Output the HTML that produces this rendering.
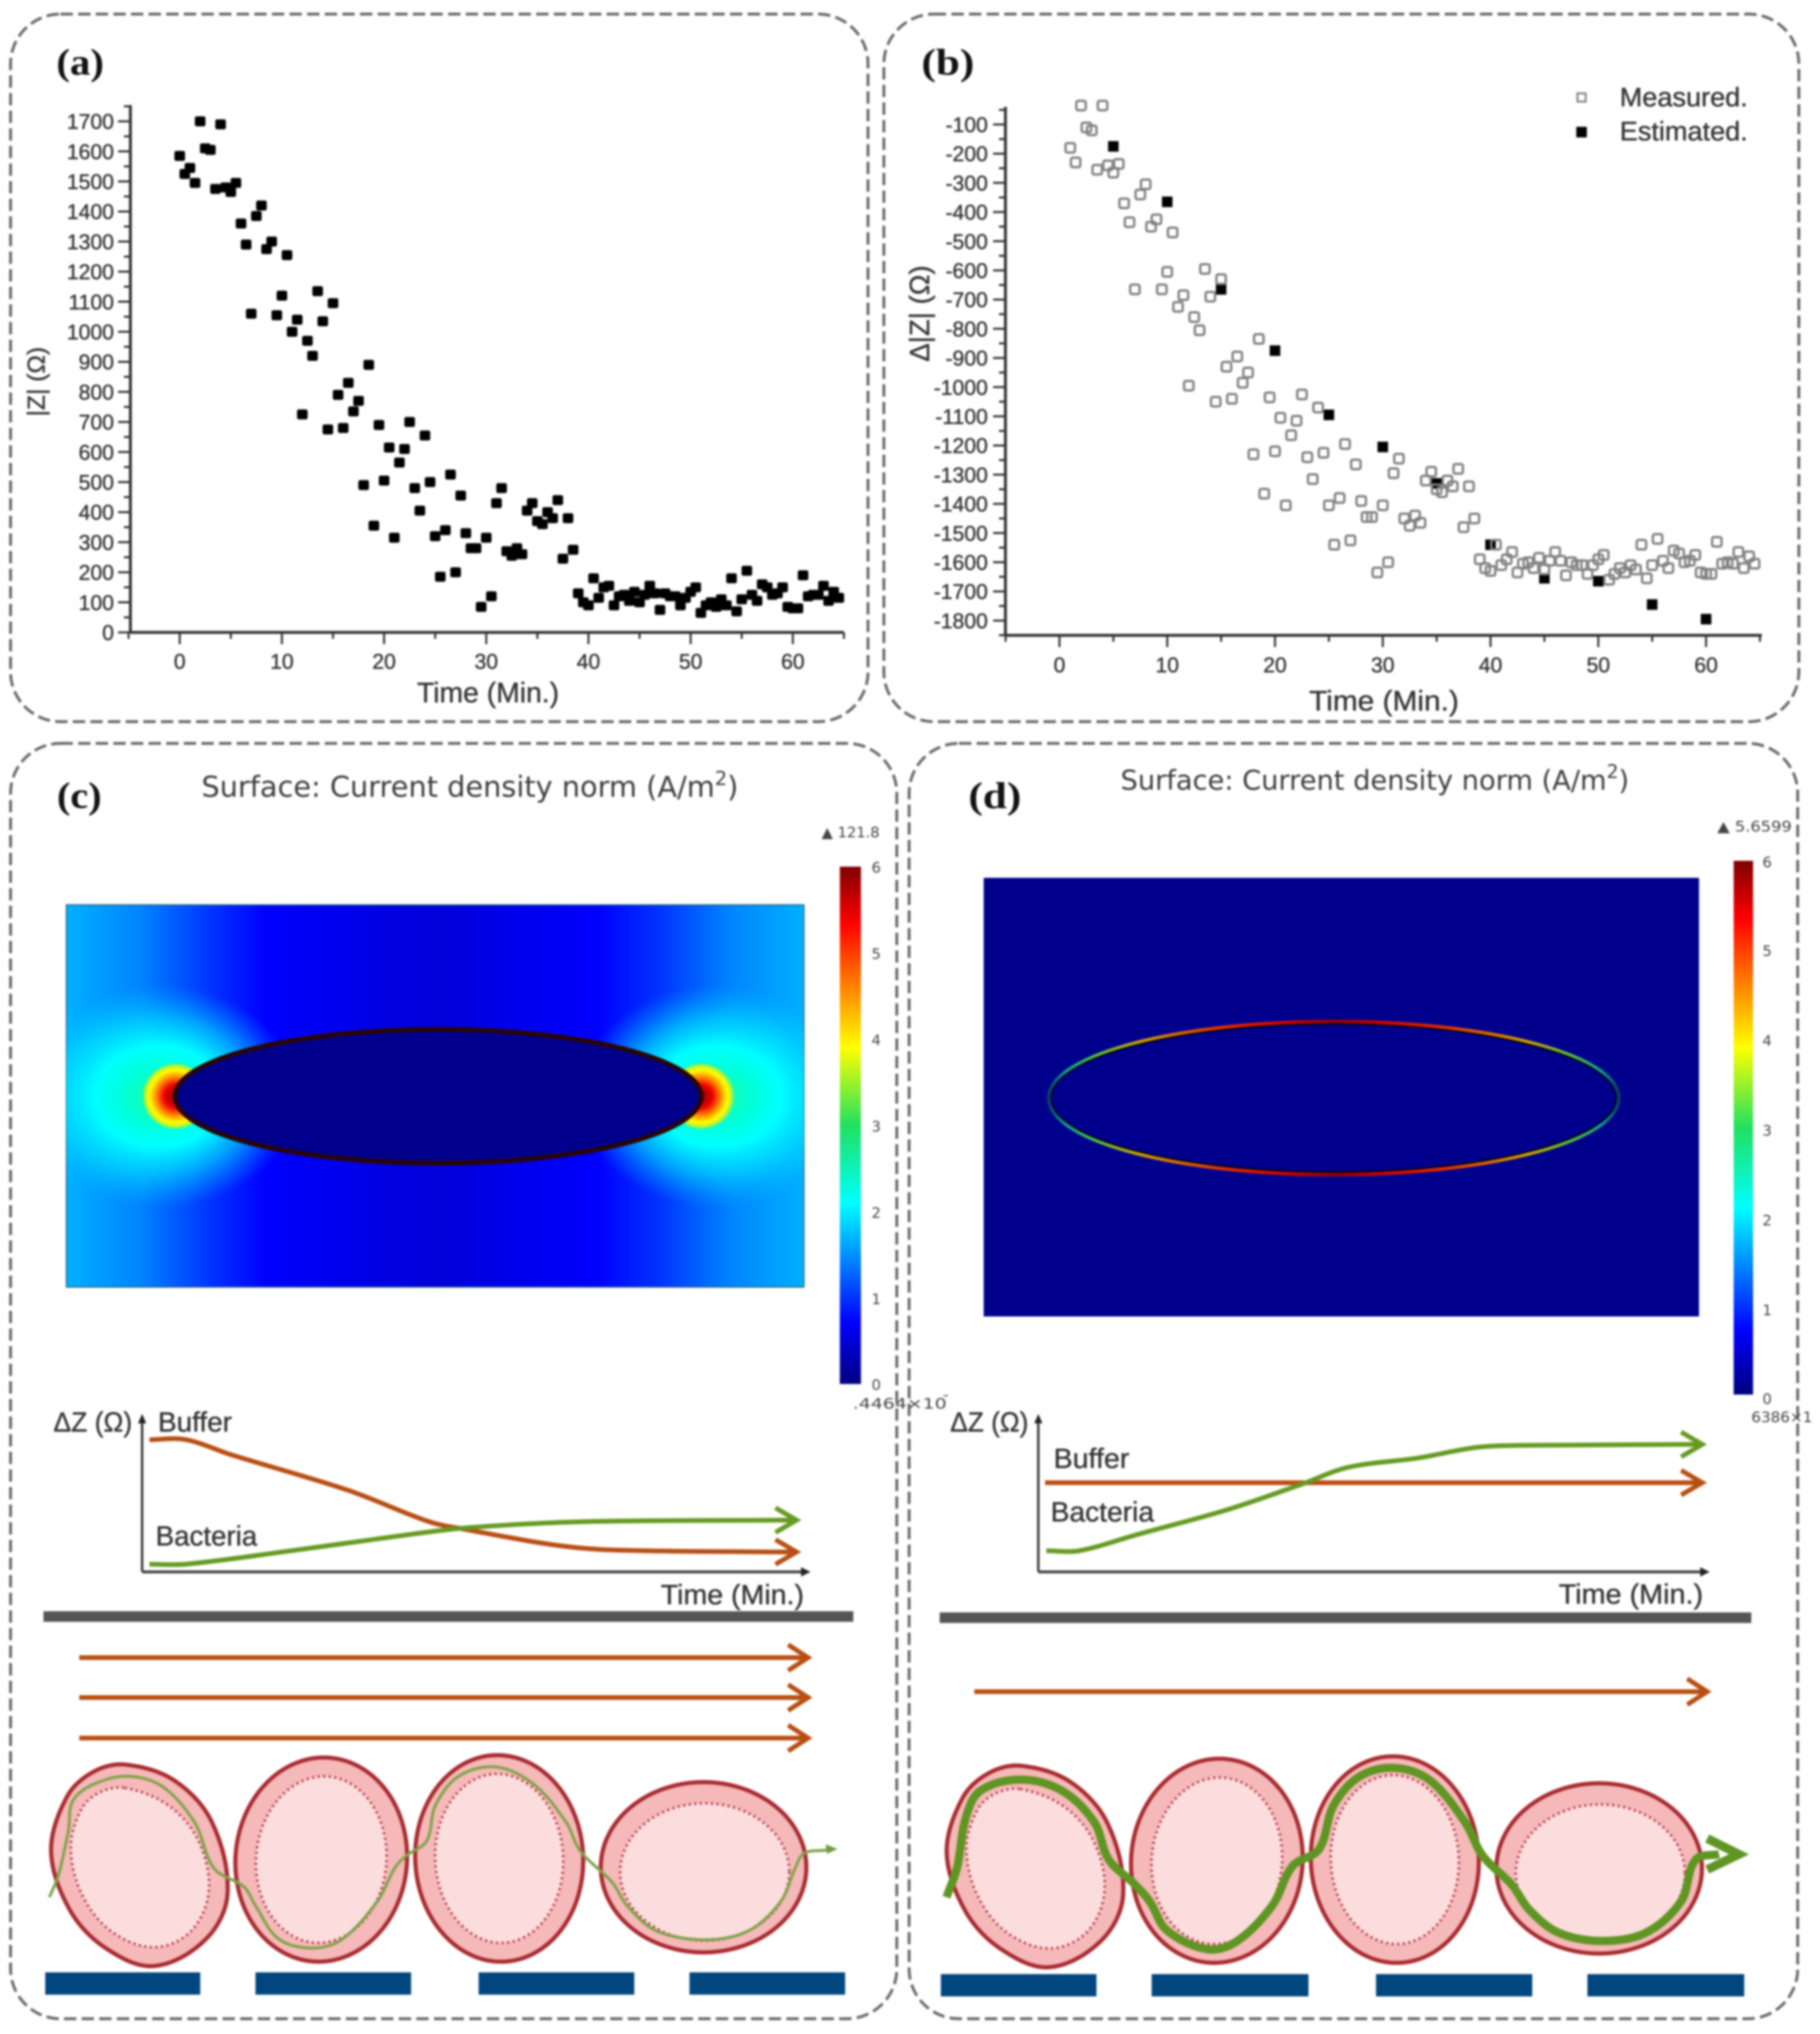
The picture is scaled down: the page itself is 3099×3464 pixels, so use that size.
<!DOCTYPE html>
<html lang="en">
<head>
<meta charset="utf-8">
<title>Impedance measurements and current density simulation</title>
<style>
html,body{margin:0;padding:0;background:#fff;width:3099px;height:3464px;overflow:hidden}
svg{display:block;filter:blur(1.8px)}
text{font-family:"Liberation Sans",sans-serif;fill:#333;stroke:#333;stroke-width:.6}
.dv{font-family:"DejaVu Sans",sans-serif;fill:#3c3c3c;stroke-width:0}
.pl{font-family:"Liberation Serif",serif;font-weight:bold;font-size:64px;fill:#111;stroke-width:0}
.panel{fill:none;stroke:#6c6c6c;stroke-width:5;stroke-dasharray:21 9}
.flow{fill:none;stroke:#b84e12;stroke-width:8}
.cb{font-family:"DejaVu Sans",sans-serif;font-size:25px;fill:#444;stroke-width:0}
</style>
</head>
<body>
<svg id="figure" xmlns="http://www.w3.org/2000/svg" width="3099" height="3464" viewBox="0 0 3099 3464">
<defs>
<linearGradient id="jet" x1="0" y1="1" x2="0" y2="0">
<stop offset="0" stop-color="#00007f"/><stop offset=".12" stop-color="#0000ff"/><stop offset=".35" stop-color="#00ffff"/><stop offset=".5" stop-color="#20e060"/><stop offset=".65" stop-color="#ffff00"/><stop offset=".89" stop-color="#ff0000"/><stop offset="1" stop-color="#7f0000"/>
</linearGradient>
<linearGradient id="field-base" x1="0" y1="0" x2="1" y2="0">
<stop offset="0" stop-color="#00b0ff"/><stop offset=".1" stop-color="#0084ff"/><stop offset=".2" stop-color="#0030ff"/><stop offset=".27" stop-color="#0000ff"/><stop offset=".5" stop-color="#0000d8"/><stop offset=".72" stop-color="#0000ff"/><stop offset=".8" stop-color="#0030ff"/><stop offset=".9" stop-color="#0084ff"/><stop offset="1" stop-color="#00b0ff"/>
</linearGradient>
<radialGradient id="lobe">
<stop offset="0" stop-color="#20ffa0"/><stop offset=".25" stop-color="#00ffd8"/><stop offset=".45" stop-color="#00ffff"/><stop offset=".7" stop-color="#00e8ff" stop-opacity=".6"/><stop offset="1" stop-color="#00c0ff" stop-opacity="0"/>
</radialGradient>
<radialGradient id="hot-l" gradientUnits="userSpaceOnUse" cx="299" cy="1867" r="56">
<stop offset="0" stop-color="#800000"/><stop offset=".35" stop-color="#f00000"/><stop offset=".6" stop-color="#ff9000"/><stop offset=".8" stop-color="#ffff00"/><stop offset=".96" stop-color="#a0f040"/><stop offset="1" stop-color="#80f060" stop-opacity="0"/>
</radialGradient>
<radialGradient id="hot-r" gradientUnits="userSpaceOnUse" cx="1194" cy="1867" r="56">
<stop offset="0" stop-color="#800000"/><stop offset=".35" stop-color="#f00000"/><stop offset=".6" stop-color="#ff9000"/><stop offset=".8" stop-color="#ffff00"/><stop offset=".96" stop-color="#a0f040"/><stop offset="1" stop-color="#80f060" stop-opacity="0"/>
</radialGradient>
<linearGradient id="rim" gradientUnits="userSpaceOnUse" x1="1786" y1="0" x2="2756" y2="0">
<stop offset="0" stop-color="#0a3a70"/><stop offset=".03" stop-color="#10a090"/><stop offset=".08" stop-color="#50c040"/><stop offset=".16" stop-color="#d0a000"/><stop offset=".3" stop-color="#e03000"/><stop offset=".42" stop-color="#d00000"/><stop offset=".5" stop-color="#900000"/><stop offset=".58" stop-color="#d00000"/><stop offset=".7" stop-color="#e03000"/><stop offset=".84" stop-color="#d0a000"/><stop offset=".92" stop-color="#50c040"/><stop offset=".97" stop-color="#10a090"/><stop offset="1" stop-color="#0a3a70"/>
</linearGradient>
<clipPath id="field-clip"><rect x="113" y="1541" width="1256" height="651"/></clipPath>
<clipPath id="plot-b-clip"><rect x="1700" y="167" width="1340" height="930"/></clipPath>
<g id="cell-set">
  <path id="cell-one-outer" fill="#f5b9b9" stroke="#a92b30" stroke-width="7"/>
  <path id="cell-one-inner" fill="#fbdddd" stroke="#b8384a" stroke-width="4.5" stroke-dasharray="3.5 6"/>
  <g transform="rotate(5 547 3167)">
    <ellipse cx="547" cy="3167" rx="146" ry="174" fill="#f5b9b9" stroke="#a92b30" stroke-width="7"/>
    <ellipse cx="547" cy="3167" rx="111" ry="142" fill="#fbdddd" stroke="#b8384a" stroke-width="4.5" stroke-dasharray="3.5 6"/>
  </g>
  <g transform="rotate(-3 850 3165)">
    <ellipse cx="850" cy="3165" rx="143" ry="176" fill="#f5b9b9" stroke="#a92b30" stroke-width="7"/>
    <ellipse cx="850" cy="3165" rx="109" ry="144" fill="#fbdddd" stroke="#b8384a" stroke-width="4.5" stroke-dasharray="3.5 6"/>
  </g>
  <ellipse cx="1198" cy="3180" rx="175" ry="145" fill="#f5b9b9" stroke="#a92b30" stroke-width="7"/>
  <ellipse cx="1200" cy="3188" rx="144" ry="117" fill="#fbdddd" stroke="#b8384a" stroke-width="4.5" stroke-dasharray="3.5 6"/>
</g>
</defs>

<rect width="3099" height="3464" fill="#fff"/>

<!-- panel frames -->
<rect class="panel" x="18" y="24" width="1460" height="1205" rx="85"/>
<rect class="panel" x="1505" y="24" width="1558" height="1205" rx="85"/>
<rect class="panel" x="18" y="1266" width="1509" height="2172" rx="85"/>
<rect class="panel" x="1548" y="1266" width="1513" height="2172" rx="85"/>

<text class="pl" x="96" y="127" textLength="81" lengthAdjust="spacingAndGlyphs">(a)</text>
<text class="pl" x="1569" y="127" textLength="90" lengthAdjust="spacingAndGlyphs">(b)</text>
<text class="pl" x="97" y="1376" textLength="76" lengthAdjust="spacingAndGlyphs">(c)</text>
<text class="pl" x="1649" y="1376" textLength="90" lengthAdjust="spacingAndGlyphs">(d)</text>

<!-- scatter chart containers -->
<g id="plot-a"></g>
<g id="plot-b"></g>

<text x="710" y="1196" font-size="48" textLength="242" lengthAdjust="spacingAndGlyphs">Time (Min.)</text>
<text transform="translate(76 650) rotate(-90)" text-anchor="middle" font-size="42">|Z| (Ω)</text>
<text x="2229" y="1210" font-size="48" textLength="255" lengthAdjust="spacingAndGlyphs">Time (Min.)</text>
<text transform="translate(1582 534) rotate(-90)" text-anchor="middle" font-size="47">Δ|Z| (Ω)</text>

<g>
  <rect x="2686" y="159" width="14" height="14" fill="none" stroke="#888" stroke-width="3.5"/>
  <text x="2758" y="181" font-size="45" textLength="218" lengthAdjust="spacingAndGlyphs">Measured.</text>
  <rect x="2684" y="216" width="18" height="18" fill="#000"/>
  <text x="2758" y="239" font-size="45" textLength="218" lengthAdjust="spacingAndGlyphs">Estimated.</text>
</g>

<!-- panel c simulation -->
<text class="dv" x="343" y="1357" font-size="49">Surface: Current density norm (A/m<tspan font-size="33" dy="-20">2</tspan><tspan dy="20">)</tspan></text>
<g>
  <rect x="113" y="1541" width="1256" height="651" fill="url(#field-base)" stroke="#2a6a80" stroke-width="2"/>
  <g clip-path="url(#field-clip)">
    <ellipse cx="270" cy="1867" rx="240" ry="190" fill="url(#lobe)"/>
    <ellipse cx="1222" cy="1867" rx="240" ry="190" fill="url(#lobe)"/>
    <circle cx="299" cy="1867" r="56" fill="url(#hot-l)"/>
    <circle cx="1194" cy="1867" r="56" fill="url(#hot-r)"/>
  </g>
  <ellipse cx="746" cy="1867" rx="448" ry="114" fill="#00008c" stroke="#2a0505" stroke-width="8"/>
</g>
<rect x="1430" y="1476" width="36" height="881" fill="url(#jet)"/>
<g>
  <text class="cb" x="1484" y="1486">6</text>
  <text class="cb" x="1484" y="1633">5</text>
  <text class="cb" x="1484" y="1780">4</text>
  <text class="cb" x="1484" y="1927">3</text>
  <text class="cb" x="1484" y="2074">2</text>
  <text class="cb" x="1484" y="2221">1</text>
  <text class="cb" x="1484" y="2367">0</text>
  <text class="cb" x="1399" y="1426">▲ 121.8</text>
  <text class="cb" x="1452" y="2399" textLength="160" lengthAdjust="spacingAndGlyphs">.4464×10</text>
  <text class="cb" x="1606" y="2384" font-size="16">-</text>
</g>

<!-- panel d simulation -->
<text class="dv" x="1908" y="1345" font-size="46.4">Surface: Current density norm (A/m<tspan font-size="32" dy="-20">2</tspan><tspan dy="20">)</tspan></text>
<g>
  <rect x="1675" y="1495" width="1218" height="747" fill="#00008c"/>
  <ellipse cx="2271" cy="1870" rx="485" ry="130" fill="none" stroke="url(#rim)" stroke-width="7"/>
  <ellipse cx="2271" cy="1870" rx="481" ry="126" fill="none" stroke="#000020" stroke-width="3"/>
</g>
<rect x="2952" y="1466" width="33" height="909" fill="url(#jet)"/>
<g>
  <text class="cb" x="3001" y="1477">6</text>
  <text class="cb" x="3001" y="1628">5</text>
  <text class="cb" x="3001" y="1781">4</text>
  <text class="cb" x="3001" y="1934">3</text>
  <text class="cb" x="3001" y="2087">2</text>
  <text class="cb" x="3001" y="2240">1</text>
  <text class="cb" x="3001" y="2391">0</text>
  <text class="cb" x="2924" y="1416" textLength="127" lengthAdjust="spacingAndGlyphs">▲ 5.6599</text>
  <text class="cb" x="2982" y="2422" textLength="104" lengthAdjust="spacingAndGlyphs">6386×1</text>
</g>

<!-- schematic charts -->
<g>
  <line x1="242" y1="2677" x2="242" y2="2418" stroke="#333" stroke-width="4"/>
  <polygon points="242,2408 235,2424 249,2424" fill="#222"/>
  <line x1="242" y1="2677" x2="1368" y2="2677" stroke="#444" stroke-width="5"/>
  <polygon points="1380,2677 1364,2669 1364,2685" fill="#222"/>
  <text x="91" y="2438" font-size="47" textLength="134" lengthAdjust="spacingAndGlyphs">ΔZ (Ω)</text>
  <text x="269" y="2438" font-size="47" textLength="126" lengthAdjust="spacingAndGlyphs">Buffer</text>
  <text x="265" y="2632" font-size="47" textLength="173" lengthAdjust="spacingAndGlyphs">Bacteria</text>
  <text x="1125" y="2732" font-size="47" textLength="244" lengthAdjust="spacingAndGlyphs">Time (Min.)</text>
</g>
<g>
  <line x1="1768" y1="2677" x2="1768" y2="2418" stroke="#333" stroke-width="4"/>
  <polygon points="1768,2408 1761,2424 1775,2424" fill="#222"/>
  <line x1="1768" y1="2677" x2="2899" y2="2677" stroke="#444" stroke-width="5"/>
  <polygon points="2911,2677 2895,2669 2895,2685" fill="#222"/>
  <text x="1618" y="2438" font-size="47" textLength="133" lengthAdjust="spacingAndGlyphs">ΔZ (Ω)</text>
  <text x="1794" y="2500" font-size="47" textLength="129" lengthAdjust="spacingAndGlyphs">Buffer</text>
  <text x="1789" y="2591" font-size="47" textLength="176" lengthAdjust="spacingAndGlyphs">Bacteria</text>
  <text x="2654" y="2731" font-size="47" textLength="246" lengthAdjust="spacingAndGlyphs">Time (Min.)</text>
</g>
<g id="schematic-curves"></g>

<!-- substrate bars -->
<rect x="74" y="2744" width="1379" height="18" fill="#555"/>
<rect x="1600" y="2746" width="1382" height="18" fill="#555"/>

<!-- flow arrows -->
<g>
  <path class="flow" d="M135 2823H1374M1342 2801L1376 2823L1342 2845"/>
  <path class="flow" d="M135 2891H1374M1342 2869L1376 2891L1342 2913"/>
  <path class="flow" d="M135 2960H1374M1342 2938L1376 2960L1342 2982"/>
</g>
<path class="flow" d="M1659 2881H2905M2873 2859L2907 2881L2873 2903"/>

<!-- cells -->
<use href="#cell-set"/>
<use href="#cell-set" x="1525" y="2"/>
<path id="path-c" fill="none" stroke="#7fa34a" stroke-width="5"/>
<polygon points="1426,3149 1406,3141 1408,3157" fill="#6f9a3c"/>
<path id="path-d" fill="none" stroke="#5f9522" stroke-width="14"/>
<path d="M2907 3131L2961 3158L2907 3184" fill="none" stroke="#5f9522" stroke-width="15"/>

<!-- lower electrodes -->
<g fill="#02467f">
  <rect x="77" y="3359" width="264" height="38"/>
  <rect x="435" y="3359" width="265" height="38"/>
  <rect x="815" y="3359" width="265" height="38"/>
  <rect x="1174" y="3359" width="265" height="38"/>
</g>
<g fill="#02467f">
  <rect x="1602" y="3362" width="265" height="38"/>
  <rect x="1961" y="3362" width="267" height="38"/>
  <rect x="2343" y="3362" width="266" height="38"/>
  <rect x="2703" y="3362" width="267" height="38"/>
</g>
</svg>

<script>
// ---- chart data ----
const sampleTimes = [
0,0.5,1,1.5,2,2.5,3,3.5,4,4.5,
5,5.5,6,6.5,7,7.5,8,8.5,9,9.5,
10,10.5,11,11.5,12,12.5,13,13.5,14,14.5,
15,15.5,16,16.5,17,17.5,18,18.5,19,19.5,
20,20.5,21,21.5,22,22.5,23,23.5,24,24.5,
25,25.5,26,26.5,27,27.5,28,28.5,29,29.5,
30,30.5,31,31.5,32,32.5,33,33.5,34,34.5,
35,35.5,36,36.5,37,37.5,38,38.5,39,39.5,
40,40.5,41,41.5,42,42.5,43,43.5,44,44.5,
45,45.5,46,46.5,47,47.5,48,48.5,49,49.5,
50,50.5,51,51.5,52,52.5,53,53.5,54,54.5,
55,55.5,56,56.5,57,57.5,58,58.5,59,59.5,
60,60.5,61,61.5,62,62.5,63,63.5,64,64.5];
const impedanceValues = [
1585,1525,1545,1495,1700,1610,1605,1475,1690,1480,
1465,1495,1360,1290,1060,1385,1420,1275,1300,1055,
1120,1255,1000,1040,725,970,920,1135,1035,675,
1095,790,680,830,735,770,490,890,355,690,
505,615,315,565,610,700,480,405,655,500,
320,185,340,525,200,455,330,280,280,85,
315,120,430,480,270,255,280,260,405,430,
370,360,400,380,440,245,380,275,130,100,
90,180,115,150,155,90,120,125,105,135,
100,125,155,130,75,130,120,120,90,115,
135,150,65,90,100,85,110,90,180,70,
110,205,125,105,160,150,125,130,150,85,
80,80,190,120,125,125,155,105,135,115];
const measuredTimes = sampleTimes.slice(2);
const measuredValues = [
-180,-230,-35,-110,-120,-255,-35,-240,
-265,-235,-370,-435,-665,-340,-305,-450,-425,-665,
-605,-470,-725,-685,-995,-760,-805,-595,-690,-1050,
-630,-930,-1040,-895,-985,-950,-1230,-835,-1365,-1035,
-1220,-1105,-1405,-1165,-1115,-1025,-1240,-1315,-1070,-1225,
-1405,-1540,-1380,-1195,-1525,-1265,-1390,-1445,-1445,-1635,
-1405,-1600,-1295,-1245,-1450,-1475,-1440,-1465,-1320,-1290,
-1350,-1360,-1320,-1340,-1280,-1480,-1340,-1450,-1590,-1620,
-1630,-1540,-1610,-1590,-1565,-1635,-1605,-1600,-1620,-1585,
-1625,-1595,-1565,-1595,-1645,-1600,-1610,-1610,-1640,-1610,
-1590,-1575,-1660,-1640,-1620,-1635,-1610,-1625,-1540,-1655,
-1610,-1520,-1595,-1620,-1560,-1570,-1600,-1595,-1575,-1635,
-1640,-1640,-1530,-1605,-1600,-1605,-1565,-1620,-1580,-1605];
const estimatedTimes = [5,10,15,20,25,30,35,40,45,50,55,60];
const estimatedValues = [-175,-365,-665,-875,-1095,-1205,-1330,-1540,-1655,-1665,-1745,-1795];
const xTickValues = [-5,0,5,10,15,20,25,30,35,40,45,50,55,60,65];
const xTickLabels = ['', '0', '', '10', '', '20', '', '30', '', '40', '', '50', '', '60', ''];
const yTicksA = [0,50,100,150,200,250,300,350,400,450,500,550,600,650,700,750,800,850,900,950,1000,1050,1100,1150,1200,1250,1300,1350,1400,1450,1500,1550,1600,1650,1700,1750];
const yTicksB = [-50,-100,-150,-200,-250,-300,-350,-400,-450,-500,-550,-600,-650,-700,-750,-800,-850,-900,-950,-1000,-1050,-1100,-1150,-1200,-1250,-1300,-1350,-1400,-1450,-1500,-1550,-1600,-1650,-1700,-1750,-1800,-1850];

// schematic curves: time (% of axis) against relative impedance (% of axis)
const schemTimesBufferC = [1.1,6.5,13.5,30.9,43,48.3,62.2,70.9,95.2];
const schemBufferC = [84.3,84.4,74.5,52,32,27.2,16.9,13.9,12.7];
const schemTimesBacteriaC = [1.1,6.5,22.2,39.6,48.3,65.7,95.2];
const schemBacteriaC = [4.9,4.9,13.4,23.6,28,32,33];
const schemTimesBufferD = [1,96.2];
const schemBufferD = [56.9,56.9];
const schemTimesBacteriaD = [1.2,6.1,14.9,27.9,39.2,46.2,56.7,65.3,72.3,96.2];
const schemBacteriaD = [13.5,13.5,24,39.3,55.8,66.7,72.7,79.4,80.7,81.3];

// ---- axis functions ----
const xA = t => 306 + 17.4 * t;
const yA = v => 1077 - 0.512 * v;
const xB = t => 1804 + 18.35 * t;
const yB = v => 162.3 - 0.497 * v;
const xSC = t => 242 + 11.37 * t;
const xSD = t => 1768 + 11.42 * t;
const yS = z => 2677 - 2.67 * z;

const NS = 'http://www.w3.org/2000/svg';
function make(parent, tag, attrs, text) {
  const node = document.createElementNS(NS, tag);
  for (const k in attrs) node.setAttribute(k, attrs[k]);
  if (text !== undefined) node.textContent = text;
  parent.appendChild(node);
  return node;
}

function drawAxes(g, xf, yf, axisLeft, axisRight, axisTop, axisBottom, xLabelY, yLabelX, yTicks, yMajor) {
  const yLine = make(g, 'line', {x1: axisLeft, x2: axisLeft, y1: axisTop, y2: axisBottom, stroke: '#333', 'stroke-width': 5});
  
  
  const xLine = make(g, 'line', {x1: axisLeft, x2: axisRight, y1: axisBottom, y2: axisBottom, stroke: '#333', 'stroke-width': 5});
  
  
  xTickValues.forEach((t, i) => {
    const major = xTickLabels[i] !== '' ;
    const tick = make(g, 'line', {x1: xf(t), x2: xf(t), y1: axisBottom, y2: axisBottom + (major ? 20 : 11), stroke: '#333', 'stroke-width': 3.5});
    
    
    if (major) {
      const label = make(g, 'text', {x: xf(t), y: xLabelY, 'text-anchor': 'middle', 'font-size': 36}, xTickLabels[i]);
      
      
    }
  });
  yTicks.forEach(v => {
    const major = yMajor(v);
    const tick = make(g, 'line', {x1: axisLeft - (major ? 21 : 11), x2: axisLeft, y1: yf(v), y2: yf(v), stroke: '#333', 'stroke-width': 3.5});
    
    
    if (major) {
      const label = make(g, 'text', {x: yLabelX, y: yf(v) + 13, 'text-anchor': 'end', 'font-size': 36}, String(v));
      
      
    }
  });
}

// ---- panel (a) ----
const plotA = document.getElementById('plot-a');
drawAxes(plotA, xA, yA, 222, 1437, 179, 1077, 1139, 194, yTicksA, v => v % 100 === 0);
sampleTimes.forEach((t, i) => {
  const p = make(plotA, 'rect', {x: xA(t) - 9, y: yA(impedanceValues[i]) - 8.5, width: 18, height: 17, rx: 3, fill: '#000'});
  
  
});

// ---- panel (b) ----
const plotB = document.getElementById('plot-b');
drawAxes(plotB, xB, yB, 1712, 3000, 182, 1082, 1145, 1682, yTicksB, v => v % 100 === 0);
const pointsB = make(plotB, 'g', {'clip-path': 'url(#plot-b-clip)'});


estimatedTimes.forEach((t, i) => {
  const p = make(pointsB, 'rect', {x: xB(t) - 9, y: yB(estimatedValues[i]) - 9, width: 18, height: 18, fill: '#000'});
  
  
});
measuredTimes.forEach((t, i) => {
  const p = make(pointsB, 'rect', {x: xB(t) - 8, y: yB(measuredValues[i]) - 8, width: 16, height: 16, rx: 3, fill: 'none', stroke: '#808080', 'stroke-width': 4});
  
  
});

// ---- smoothing helper (tangents scaled to chord length so no overshoot) ----
function smooth(pts, closed) {
  const n = pts.length;
  const at = i => closed ? pts[(i + n) % n] : pts[Math.max(0, Math.min(n - 1, i))];
  const unit = (a, b) => {
    const dx = b[0] - a[0], dy = b[1] - a[1], len = Math.hypot(dx, dy) || 1;
    return [dx / len, dy / len];
  };
  let d = 'M' + pts[0][0].toFixed(1) + ' ' + pts[0][1].toFixed(1);
  const last = closed ? n : n - 1;
  for (let i = 0; i < last; i++) {
    const p0 = at(i - 1), p1 = at(i), p2 = at(i + 1), p3 = at(i + 2);
    const h = Math.hypot(p2[0] - p1[0], p2[1] - p1[1]) / 3;
    const t1 = unit(p0, p2), t2 = unit(p1, p3);
    const c1 = [p1[0] + t1[0] * h, p1[1] + t1[1] * h];
    const c2 = [p2[0] - t2[0] * h, p2[1] - t2[1] * h];
    d += 'C' + c1[0].toFixed(1) + ' ' + c1[1].toFixed(1) + ' ' + c2[0].toFixed(1) + ' ' + c2[1].toFixed(1) + ' ' + p2[0].toFixed(1) + ' ' + p2[1].toFixed(1);
  }
  return closed ? d + 'Z' : d;
}

// ---- schematic curves ----
const curves = document.getElementById('schematic-curves');
function drawCurve(times, values, xf, color, name) {
  const pts = times.map((t, i) => [xf(t), yS(values[i])]);
  const end = pts[pts.length - 1];
  const tipX = end[0] + 30;
  const line = make(curves, 'path', {d: smooth(pts, false) + 'L' + tipX + ' ' + end[1], fill: 'none', stroke: color, 'stroke-width': 8});
  
  
  const head = make(curves, 'path', {d: 'M' + (tipX - 34) + ' ' + (end[1] - 21) + 'L' + (tipX + 2) + ' ' + end[1] + 'L' + (tipX - 34) + ' ' + (end[1] + 21), fill: 'none', stroke: color, 'stroke-width': 8});
  
  
}
drawCurve(schemTimesBufferC, schemBufferC, xSC, '#b84e12', 'buffer-curve-c');
drawCurve(schemTimesBacteriaC, schemBacteriaC, xSC, '#659a20', 'bacteria-curve-c');
drawCurve(schemTimesBufferD, schemBufferD, xSD, '#b84e12', 'buffer-curve-d');
drawCurve(schemTimesBacteriaD, schemBacteriaD, xSD, '#659a20', 'bacteria-curve-d');

// ---- illustration shapes (cell outline and current paths) ----
const toC = p => [0.9885 * p[0], 2350 + 0.7105 * p[1]];
const toD = p => [1540 + 0.9943 * p[0], 2350 + 0.7105 * p[1]];
const cellOuterShape = [[215,922],[300,960],[365,1060],[392,1230],[355,1340],[265,1405],[180,1360],[120,1270],[88,1130],[115,1000],[160,940]];
const cellInnerShape = [[215,978],[290,1020],[340,1100],[360,1220],[330,1320],[265,1360],[190,1320],[140,1230],[122,1120],[140,1030],[170,990]];
const routeC = [[85,1240],[100,1190],[118,1080],[125,1010],[160,970],[220,950],[280,975],[335,1060],[360,1150],[375,1180],[420,1215],[440,1260],[480,1340],[540,1362],[590,1340],[650,1250],[680,1170],[700,1140],[735,1105],[750,1020],[790,950],[855,928],[920,970],[975,1060],[1000,1130],[1055,1205],[1080,1260],[1130,1320],[1215,1342],[1290,1320],[1345,1250],[1370,1170],[1385,1135],[1425,1127]];
const routeD = [[72,1240],[90,1170],[105,1050],[130,985],[200,958],[270,985],[325,1060],[350,1150],[395,1210],[420,1250],[450,1320],[520,1365],[570,1345],[630,1260],[665,1165],[710,1125],[735,1020],[780,950],[840,930],[900,960],[960,1060],[990,1140],[1040,1210],[1070,1270],[1120,1325],[1195,1345],[1270,1325],[1330,1250],[1355,1150],[1395,1137]];
document.getElementById('cell-one-outer').setAttribute('d', smooth(cellOuterShape.map(toC), true));
document.getElementById('cell-one-inner').setAttribute('d', smooth(cellInnerShape.map(toC), true));
document.getElementById('path-c').setAttribute('d', smooth(routeC.map(toC), false));
document.getElementById('path-d').setAttribute('d', smooth(routeD.map(toD), false));
</script>
</body>
</html>
